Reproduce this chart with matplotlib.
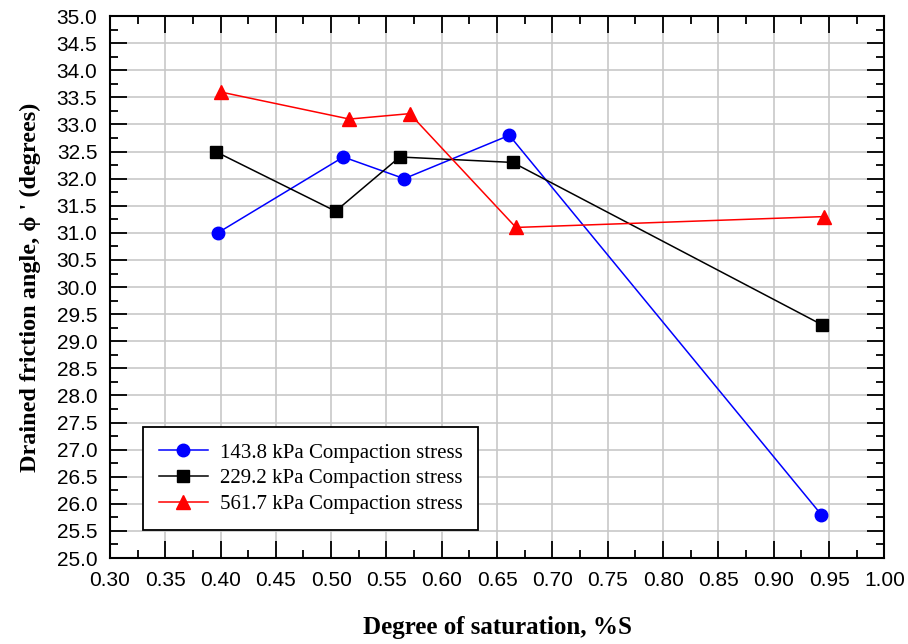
import matplotlib.pyplot as plt
import numpy as np

# degree of saturation and friction angle for each compaction stress
s_143 = [0.3975, 0.511, 0.566, 0.661, 0.943]
phi_143 = [31.0, 32.4, 32.0, 32.8, 25.8]

s_229 = [0.3955, 0.504, 0.562, 0.664, 0.944]
phi_229 = [32.5, 31.4, 32.4, 32.3, 29.3]

s_561 = [0.400, 0.5165, 0.571, 0.667, 0.945]
phi_561 = [33.6, 33.1, 33.2, 31.1, 31.3]

labels = ['143.8 kPa Compaction stress',
          '229.2 kPa Compaction stress',
          '561.7 kPa Compaction stress']

serif = ['Liberation Serif', 'DejaVu Serif']
sans = ['Liberation Sans', 'DejaVu Sans']

fig = plt.figure(figsize=(9.08, 6.44), dpi=100)
ax = fig.add_axes([0.121, 0.1335, 0.853, 0.8415])

ax.plot(s_143, phi_143, 'o-', color='#0000ff', lw=1.1, ms=9, label=labels[0], zorder=3)
ax.plot(s_229, phi_229, 's-', color='black', lw=1.1, ms=8.5, label=labels[1], zorder=3)
ax.plot(s_561, phi_561, '^-', color='#ff0000', lw=1.1, ms=10, label=labels[2], zorder=3)

ax.set_xlim(0.30, 1.00)
ax.set_ylim(25.0, 35.0)
ax.set_xticks(np.arange(0.30, 1.001, 0.05))
ax.set_xticks(np.arange(0.325, 1.0, 0.05), minor=True)
ax.set_yticks(np.arange(25.0, 35.001, 0.5))
ax.set_yticks(np.arange(25.25, 35.0, 0.5), minor=True)
ax.set_xticklabels(['%.2f' % v for v in np.arange(0.30, 1.001, 0.05)], family=sans, fontsize=15)
ax.set_yticklabels(['%.1f' % v for v in np.arange(25.0, 35.001, 0.5)], family=sans, fontsize=15)

ax.tick_params(which='major', direction='in', length=12, width=1.3, top=True, right=True, pad=9)
ax.tick_params(which='minor', direction='in', length=6, width=1.3, top=True, right=True)
ax.grid(True, which='major', color='#c8c8c8', lw=1.2, zorder=0)
ax.set_axisbelow(True)
for sp in ax.spines.values():
    sp.set_linewidth(1.5)

ax.set_xlabel('Degree of saturation, %S', family=serif, fontsize=18, fontweight='bold', labelpad=19)
ax.set_ylabel("Drained friction angle, \u03d5 ' (degrees)", family=serif, fontsize=17.5,
              fontweight='bold', labelpad=11)

leg = ax.legend(loc='lower left', bbox_to_anchor=(0.043, 0.052), prop={'family': serif, 'size': 15},
                fancybox=False, framealpha=1, edgecolor='black', handlelength=2.35,
                handletextpad=0.58, borderpad=0.75, labelspacing=0.3, borderaxespad=0)
leg.get_frame().set_linewidth(1.3)

plt.savefig('out.png', dpi=100)
